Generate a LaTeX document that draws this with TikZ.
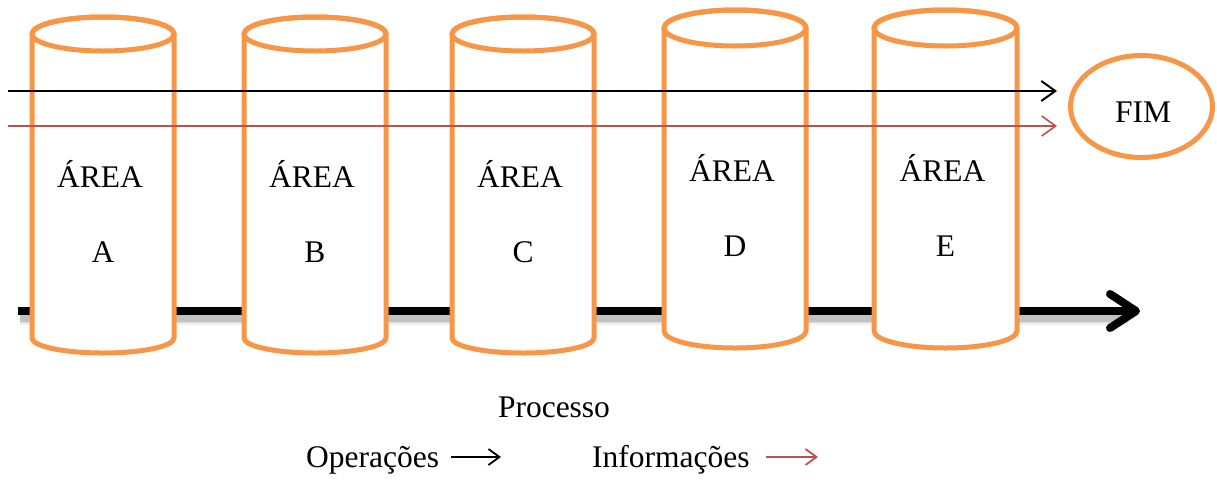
\documentclass[tikz,border=0pt]{standalone}
\usepackage{fontspec}
\setmainfont{Liberation Serif}
\usetikzlibrary{arrows.meta,shapes.geometric}
\definecolor{cylorange}{HTML}{F79646}
\definecolor{infored}{HTML}{C0504D}
\begin{document}
\begin{tikzpicture}[x=1pt,y=1pt,
  cyl/.style={draw=cylorange, line width=5pt, fill=white, line join=round},
  cyltop/.style={draw=cylorange, line width=5pt},
  lbl/.style={font=\fontsize{31.5}{36}\selectfont, anchor=base, inner sep=0pt},
  thinarrow/.style={line width=2pt, -{Straight Barb[length=14pt,width=20pt]}},
  legarrow/.style={line width=1.8pt, -{Straight Barb[length=11pt,width=16pt]}},
  mainarrow/.style={line width=8pt, -{Straight Barb[length=26pt,width=34pt,line cap=round,line join=round]}},
  endnode/.style={ellipse, draw=cylorange, line width=5pt, fill=white,
    minimum width=142pt, minimum height=102pt, inner sep=0pt}]
\useasboundingbox (0,0) rectangle (1217,-480);

% process axis, behind the areas
\coordinate (pstart) at (18,-311);
\coordinate (pend) at (1140,-311);
\foreach \w/\o in {17/0.06,14/0.08,11/0.12} {
  \begin{scope}[transform canvas={xshift=2pt,yshift=-5pt}]
    \draw[black, opacity=\o, line width=\w pt] (pstart) -- ([xshift=-14pt]pend);
  \end{scope}
}
\draw[mainarrow] (pstart) -- (pend);

% areas: left, right, top y, top radius, bottom y, bottom radius, name, letter
\foreach \l/\r/\t/\rt/\b/\rb/\n/\k in {
    32/174/-34/17/-338/15/a/A,
    244/386/-34/17/-338/15/b/B,
    452/594/-34/17/-338/15/c/C,
    664/806/-28/18/-331/17/d/D,
    874/1017/-28/18/-331/17/e/E} {
  \pgfmathsetmacro\rx{(\r-\l)/2}
  \pgfmathsetmacro\cx{(\r+\l)/2}
  \draw[cyl] (\l,\t) -- (\l,\b)
    arc[start angle=180, end angle=360, x radius=\rx, y radius=\rb]
    -- (\r,\t)
    arc[start angle=0, end angle=180, x radius=\rx, y radius=\rt] -- cycle;
  \draw[cyltop] (\cx,\t) ellipse[x radius=\rx, y radius=\rt];
  \pgfmathsetmacro\ya{\t-153}
  \pgfmathsetmacro\yb{\t-228}
  \node[lbl] (area\n) at (\cx-3,\ya) {ÁREA};
  \node[lbl] (letter\n) at (\cx,\yb) {\k};
}

% end of the flow
\node[endnode] (fim) at (1141.5,-106.5) {};
\node[lbl] (fimtext) at (1143,-122) {FIM};

% operations and information flows
\coordinate (opstart) at (8,-91);
\coordinate (opend) at (1057,-91);
\coordinate (infstart) at (8,-126);
\coordinate (infend) at (1057,-126);
\draw[thinarrow, black] (opstart) -- (opend);
\draw[thinarrow, infored, line width=1.6pt] (infstart) -- (infend);

% legend
\node[lbl] (proc) at (554,-417) {Processo};
\node[lbl, anchor=base west] (ops) at (306,-467) {Operações};
\node[lbl, anchor=base west] (infos) at (592,-467) {Informações};
\coordinate (opl1) at (451,-457);
\coordinate (opl2) at (501,-457);
\coordinate (inl1) at (766,-457);
\coordinate (inl2) at (818,-457);
\draw[legarrow, black] (opl1) -- (opl2);
\draw[legarrow, infored] (inl1) -- (inl2);
\end{tikzpicture}
\end{document}
